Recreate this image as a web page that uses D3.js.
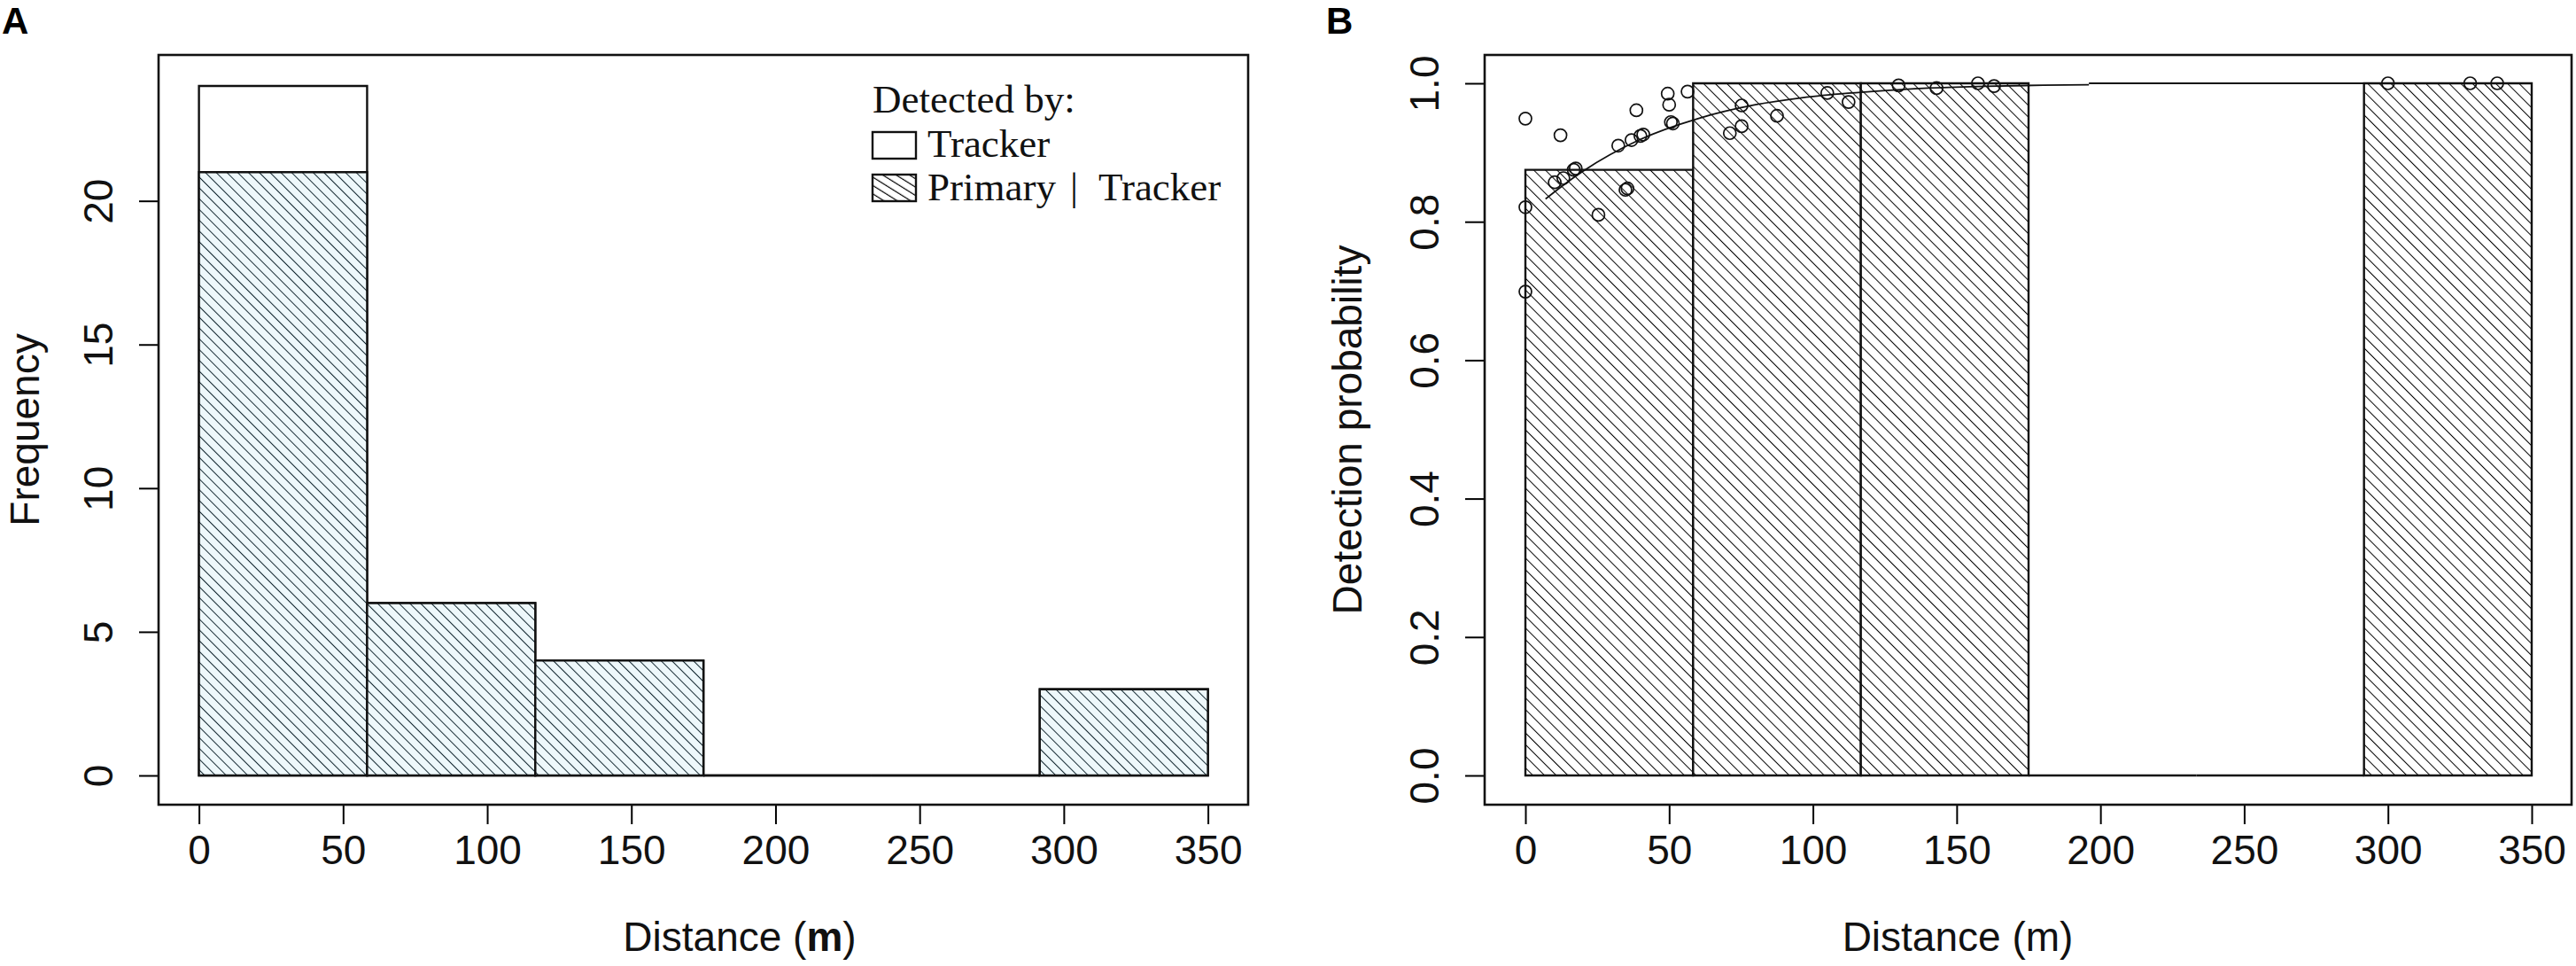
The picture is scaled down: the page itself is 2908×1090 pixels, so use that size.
<!DOCTYPE html>
<html>
<head>
<meta charset="utf-8">
<script src="https://cdn.jsdelivr.net/npm/d3@7"></script>
<style>
  html, body { margin: 0; padding: 0; background: #fff; }
  svg { display: block; }
</style>
</head>
<body>
<svg id="chart" width="2908" height="1090"></svg>
<script>
// ---------------- data ----------------
const binEdges = [0, 58.33, 116.67, 175, 233.33, 291.67, 350];
const trackerCounts = [24, 6, 4, 0, 0, 3];          // Detected by: Tracker (total)
const primaryCounts = [21, 6, 4, 0, 0, 3];          // Primary | Tracker
const detectionProb = [0.875, 1, 1, 0, 0, 1];       // panel B bar heights

const xTicks = [0, 50, 100, 150, 200, 250, 300, 350];
const yTicksA = [0, 5, 10, 15, 20];
const yTicksB = [0, 0.2, 0.4, 0.6, 0.8, 1.0];

const pointsX = [0, 12.2, 0, 0, 10.2, 13.2, 16.8, 17.5, 25.4, 32.3, 36.9, 40, 41, 34.8, 35.5,
                 38.6, 49.5, 50, 51.3, 50.6, 56.4, 71.1, 75.2, 75.2, 87.5, 105, 112.4,
                 129.8, 143, 157.4, 163, 300, 328.6, 338];
const pointsY = [0.949, 0.925, 0.821, 0.699, 0.857, 0.863, 0.875, 0.877, 0.810, 0.910, 0.918, 0.924, 0.926, 0.846, 0.848,
                 0.961, 0.985, 0.969, 0.942, 0.944, 0.988, 0.928, 0.938, 0.968, 0.953, 0.986, 0.973,
                 0.997, 0.993, 1.0, 0.996, 1.0, 1.0, 1.0];

const curveX = [7, 20, 40, 60, 80, 100, 120, 140, 160, 180, 196];
const curveY = [0.833, 0.873, 0.919, 0.949, 0.969, 0.981, 0.988, 0.993, 0.9956, 0.9973, 0.998];
const flatX = [196, 292];
const flatY = [1.0, 1.0];

// ---------------- layout ----------------
const svg = d3.select("#chart");
const SANS = "'Liberation Sans', Arial, sans-serif";
const SERIF = "'Liberation Serif', 'Times New Roman', serif";
const FS = 46;
const boxTop = 62, boxBottom = 908;

const panelA = { left: 179, right: 1409 };
const panelB = { left: 1676, right: 2903 };

const xA = d3.scaleLinear().domain([0, 350]).range([224.6, 1363.6]);
const yA = d3.scaleLinear().domain([0, 24]).range([875, 97]);
const xB = d3.scaleLinear().domain([0, 350]).range([1722, 2858]);
const yB = d3.scaleLinear().domain([0, 1]).range([875, 94]);

// ---------------- patterns ----------------
const defs = svg.append("defs");
function hatch(id, spacing, angle, color, bg, sw) {
  const p = defs.append("pattern")
    .attr("id", id).attr("patternUnits", "userSpaceOnUse")
    .attr("width", spacing).attr("height", spacing)
    .attr("patternTransform", `rotate(${angle})`);
  p.append("rect").attr("width", spacing).attr("height", spacing).attr("fill", bg);
  p.append("line").attr("x1", 0).attr("y1", -1).attr("x2", 0).attr("y2", spacing + 1)
    .attr("stroke", color).attr("stroke-width", sw);
}
hatch("hatchA", 8.6, -45, "#12262f", "#eef8fb", 2.0);
hatch("hatchB", 9.3, -45, "#000", "#fff", 2.0);
hatch("hatchLeg", 8, -58, "#000", "#fff", 2.4);

// ---------------- helpers ----------------
function barPath(x, y, x0, x1, v) {
  const p = d3.path();
  p.moveTo(x(x0), y(0));
  p.lineTo(x(x1), y(0));
  p.lineTo(x(x1), y(v));
  p.lineTo(x(x0), y(v));
  p.closePath();
  return p.toString();
}

function drawAxes(g, x, y, yTicks, fmt, panel) {
  const xg = g.append("g").attr("transform", `translate(0,${boxBottom})`)
    .call(d3.axisBottom(x).tickValues(xTicks).tickSize(22).tickPadding(12).tickFormat(d3.format("d")));
  xg.select(".domain").attr("d", `M${x(xTicks[0])},0H${x(xTicks[xTicks.length-1])}`).attr("stroke-width", 2);
  xg.selectAll(".tick line").attr("stroke-width", 2);
  xg.selectAll(".tick text").attr("font-family", SANS).attr("font-size", FS).attr("fill", "#111")
    .attr("dy", "0.71em");

  const yg = g.append("g").attr("transform", `translate(${panel.left},0)`)
    .call(d3.axisLeft(y).tickValues(yTicks).tickSize(22).tickFormat(fmt));
  yg.select(".domain").attr("d", `M0,${y(yTicks[0])}V${y(yTicks[yTicks.length-1])}`).attr("stroke-width", 2);
  yg.selectAll(".tick line").attr("stroke-width", 2);
  yg.selectAll(".tick text")
    .attr("font-family", SANS).attr("font-size", FS).attr("fill", "#111")
    .attr("text-anchor", "middle").attr("x", null).attr("dy", null)
    .attr("transform", "translate(-52,0) rotate(-90)");

  g.append("rect").attr("x", panel.left).attr("y", boxTop)
    .attr("width", panel.right - panel.left).attr("height", boxBottom - boxTop)
    .attr("fill", "none").attr("stroke", "#111").attr("stroke-width", 2.6);
}

// ---------------- Panel A ----------------
const gA = svg.append("g");
const binsA = d3.range(trackerCounts.length).map(i => ({
  x0: binEdges[i], x1: binEdges[i + 1], total: trackerCounts[i], prim: primaryCounts[i]
}));
gA.selectAll("path.total").data(binsA).join("path").attr("class", "total")
  .attr("d", d => barPath(xA, yA, d.x0, d.x1, d.total))
  .attr("fill", "#fff").attr("stroke", "#111").attr("stroke-width", 2.4);
gA.selectAll("path.prim").data(binsA).join("path").attr("class", "prim")
  .attr("d", d => barPath(xA, yA, d.x0, d.x1, d.prim))
  .attr("fill", "url(#hatchA)").attr("stroke", "#111").attr("stroke-width", 2.4);

drawAxes(gA, xA, yA, yTicksA, d3.format("d"), panelA);

gA.append("text").attr("transform", `translate(44,${(boxTop + boxBottom) / 2}) rotate(-90)`)
  .attr("text-anchor", "middle").attr("font-family", SANS).attr("font-size", FS).attr("fill", "#111")
  .text("Frequency");
const tA = gA.append("text").attr("x", 835).attr("y", 1073).attr("text-anchor", "middle")
  .attr("font-family", SANS).attr("font-size", FS).attr("fill", "#111");
tA.append("tspan").text("Distance (");
tA.append("tspan").attr("font-weight", "bold").text("m");
tA.append("tspan").text(")");

// legend
const leg = gA.append("g");
leg.append("text").attr("x", 985).attr("y", 127).attr("font-family", SERIF).attr("font-size", 45)
  .attr("fill", "#111").text("Detected by:");
leg.append("rect").attr("x", 985).attr("y", 149).attr("width", 49).attr("height", 30)
  .attr("fill", "#fff").attr("stroke", "#111").attr("stroke-width", 2.4);
leg.append("text").attr("x", 1047).attr("y", 177).attr("font-family", SERIF).attr("font-size", 45)
  .attr("fill", "#111").text("Tracker");
leg.append("rect").attr("x", 985).attr("y", 197).attr("width", 49).attr("height", 30)
  .attr("fill", "url(#hatchLeg)").attr("stroke", "#111").attr("stroke-width", 2.4);
const l2 = leg.append("text").attr("y", 226).attr("font-family", SERIF).attr("font-size", 45).attr("fill", "#111");
l2.append("tspan").attr("x", 1047).text("Primary");
l2.append("tspan").attr("x", 1208).text("|");
l2.append("tspan").attr("x", 1240).text("Tracker");

// ---------------- Panel B ----------------
const gB = svg.append("g");
const binsB = d3.range(detectionProb.length).map(i => ({
  x0: binEdges[i], x1: binEdges[i + 1], v: detectionProb[i]
}));
gB.selectAll("path.bar").data(binsB).join("path").attr("class", "bar")
  .attr("d", d => barPath(xB, yB, d.x0, d.x1, d.v))
  .attr("fill", "url(#hatchB)").attr("stroke", "#111").attr("stroke-width", 2.4);

const curveData = curveX.map((d, i) => [d, curveY[i]]);
const flatData = flatX.map((d, i) => [d, flatY[i]]);
gB.append("path").attr("d", d3.line().x(d => xB(d[0])).y(d => yB(d[1])).curve(d3.curveMonotoneX)(curveData))
  .attr("fill", "none").attr("stroke", "#111").attr("stroke-width", 1.8);
gB.append("path").attr("d", d3.line().x(d => xB(d[0])).y(d => yB(d[1]))(flatData))
  .attr("fill", "none").attr("stroke", "#111").attr("stroke-width", 2.2);

const pts = pointsX.map((d, i) => [d, pointsY[i]]);
gB.selectAll("circle").data(pts).join("circle")
  .attr("cx", d => xB(d[0])).attr("cy", d => yB(d[1])).attr("r", 7)
  .attr("fill", "none").attr("stroke", "#111").attr("stroke-width", 1.7);

drawAxes(gB, xB, yB, yTicksB, d3.format(".1f"), panelB);

gB.append("text").attr("transform", `translate(1537,${(boxTop + boxBottom) / 2}) rotate(-90)`)
  .attr("text-anchor", "middle").attr("font-family", SANS).attr("font-size", FS).attr("fill", "#111")
  .text("Detection probability");
gB.append("text").attr("x", 2210).attr("y", 1073).attr("text-anchor", "middle")
  .attr("font-family", SANS).attr("font-size", FS).attr("fill", "#111")
  .text("Distance (m)");

// panel letters
svg.append("text").attr("x", 2).attr("y", 38).attr("font-family", SANS).attr("font-weight", "bold")
  .attr("font-size", 42).attr("fill", "#000").text("A");
svg.append("text").attr("x", 1497).attr("y", 38).attr("font-family", SANS).attr("font-weight", "bold")
  .attr("font-size", 42).attr("fill", "#000").text("B");
</script>
</body>
</html>
